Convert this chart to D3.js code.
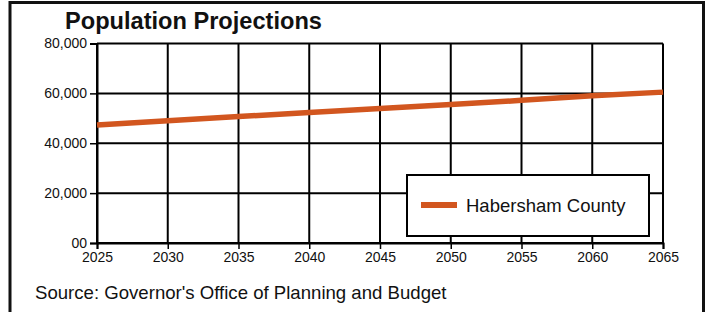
<!DOCTYPE html>
<html>
<head>
<meta charset="utf-8">
<script src="https://cdn.jsdelivr.net/npm/d3@7"></script>
<style>
  body { margin: 0; background: #fff; }
  svg { display: block; font-family: "Liberation Sans", Arial, sans-serif; }
</style>
</head>
<body>
<div id="chart"></div>
<script>
// data
const years = [2025, 2030, 2035, 2040, 2045, 2050, 2055, 2060, 2065];
const population = [47300, 49000, 50700, 52300, 53900, 55500, 57200, 59000, 60500];
const yTicks = [0, 20000, 40000, 60000, 80000];
const yTickLabels = ["00", "20,000", "40,000", "60,000", "80,000"];
const seriesName = "Habersham County";
const title = "Population Projections";
const source = "Source: Governor's Office of Planning and Budget";

const W = 710, H = 312;
const margin = { top: 43.5, right: 47, bottom: 69, left: 97 };
const width = W - margin.left - margin.right;
const height = H - margin.top - margin.bottom;
const lineColor = "#d2561f";

const svg = d3.select("#chart").append("svg")
    .attr("width", W)
    .attr("height", H);

// outer frame
svg.append("rect")
    .attr("x", 10).attr("y", 2.5)
    .attr("width", 693.5).attr("height", H + 20)
    .attr("fill", "none")
    .attr("stroke", "#111")
    .attr("stroke-width", 3);

svg.append("text")
    .attr("x", 65).attr("y", 29)
    .style("font-size", "23.6px")
    .style("font-weight", "bold")
    .attr("fill", "#111")
    .text(title);

const g = svg.append("g")
    .attr("transform", `translate(${margin.left},${margin.top})`);

const x = d3.scaleLinear().domain([2025, 2065]).range([0, width]);
const y = d3.scaleLinear().domain([0, 80000]).range([height, 0]);

// grid
g.append("g").selectAll("line")
    .data(years)
    .join("line")
    .attr("x1", d => x(d)).attr("x2", d => x(d))
    .attr("y1", 0).attr("y2", height)
    .attr("stroke", "#000").attr("stroke-width", 2);

g.append("g").selectAll("line")
    .data(yTicks)
    .join("line")
    .attr("x1", 0).attr("x2", width)
    .attr("y1", d => y(d)).attr("y2", d => y(d))
    .attr("stroke", "#000").attr("stroke-width", 2);

// axes
const yAxis = g.append("g")
    .call(d3.axisLeft(y).tickValues(yTicks)
        .tickFormat((d, i) => yTickLabels[i])
        .tickSize(7).tickPadding(3));
const xAxis = g.append("g")
    .attr("transform", `translate(0,${height})`)
    .call(d3.axisBottom(x).tickValues(years)
        .tickFormat(d3.format("d"))
        .tickSize(6).tickPadding(3));

[xAxis, yAxis].forEach(a => {
    a.attr("font-size", 14).attr("font-family", "\"Liberation Sans\", Arial, sans-serif");
    a.select(".domain").attr("stroke", "#000").attr("stroke-width", 2);
    a.selectAll(".tick line").attr("stroke", "#000").attr("stroke-width", 1.5);
    a.selectAll("text").attr("fill", "#111");
});

// series line
g.append("path")
    .datum(years.map((yr, i) => [yr, population[i]]))
    .attr("fill", "none")
    .attr("stroke", lineColor)
    .attr("stroke-width", 5.5)
    .attr("d", d3.line().x(d => x(d[0])).y(d => y(d[1])));

// legend
const legend = svg.append("g").attr("transform", "translate(407,175)");
legend.append("rect")
    .attr("width", 242).attr("height", 61)
    .attr("fill", "#fff")
    .attr("stroke", "#000").attr("stroke-width", 2);
legend.append("line")
    .attr("x1", 14).attr("x2", 50)
    .attr("y1", 30).attr("y2", 30)
    .attr("stroke", lineColor).attr("stroke-width", 6);
legend.append("text")
    .attr("x", 59).attr("y", 36.5)
    .style("font-size", "18.5px")
    .attr("fill", "#111")
    .text(seriesName);

svg.append("text")
    .attr("x", 35).attr("y", 299)
    .style("font-size", "18.6px")
    .attr("fill", "#111")
    .text(source);
</script>
</body>
</html>
